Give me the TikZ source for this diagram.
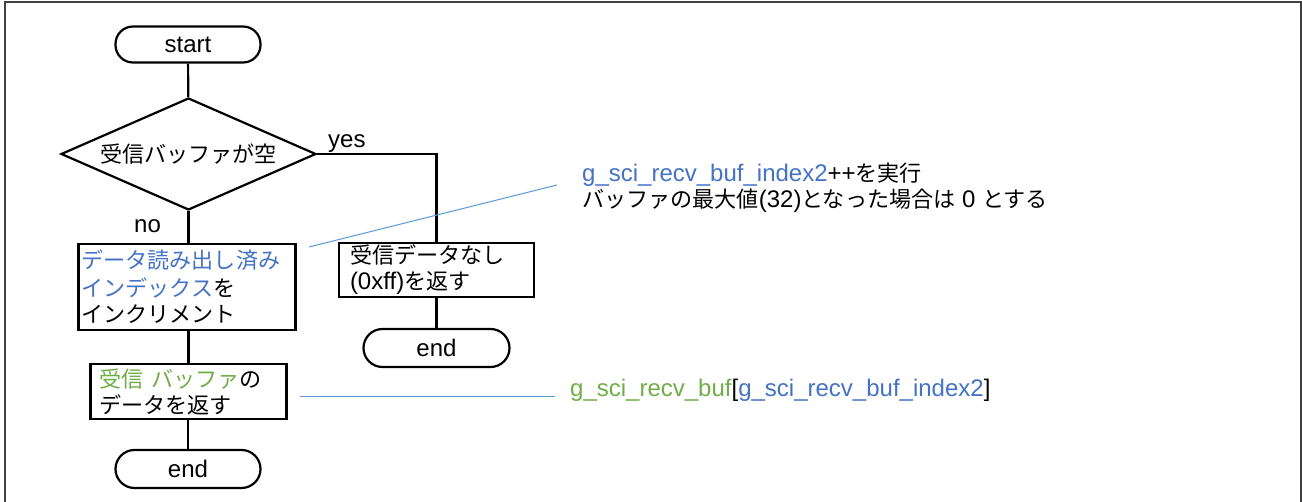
\documentclass[tikz,border=0pt]{standalone}
\usepackage{fontspec}
\setmainfont{Liberation Sans}
\newfontfamily\jpf[Scale=0.92]{Noto Sans CJK JP}
\usetikzlibrary{shapes.geometric}
\definecolor{codeblue}{HTML}{4472C4}
\definecolor{codegreen}{HTML}{70AD47}
\definecolor{leader}{HTML}{5B9BD5}
\tikzset{
  flow/.style={line width=2.2pt, black},
  terminal/.style={draw, flow, rounded corners=17.5pt, minimum width=145pt, minimum height=36pt, inner sep=0pt},
  decision/.style={draw, flow, diamond, aspect=2.28, minimum width=255pt, minimum height=112pt, inner sep=0pt},
  procbox/.style={draw, flow, rectangle, align=left, inner ysep=0pt},
  note/.style={anchor=west, inner sep=0pt, align=left},
  leaderline/.style={leader, line width=1pt},
  framestyle/.style={black!75, line width=1.6pt},
}
\begin{document}
\begin{tikzpicture}[x=1pt, y=-1pt, font=\fontsize{24}{26}\selectfont]
\useasboundingbox (0,0) rectangle (1302,502);
% outer frame (open at the bottom)
\draw[framestyle] (5,502) -- (5,2) -- (1301,2) -- (1301,502);

% main flow
\node[terminal] (start) at (188,44.5) {start};
\node[decision] (empty) at (188.5,154) {\jpf 受信バッファが空};
\node[procbox, text width=211pt, inner xsep=3pt, minimum height=86pt] (incr) at (187,287)
  {{\jpf\color{codeblue}データ読み出し済み}\\[2pt]{\jpf\color{codeblue}インデックス}{\jpf を}\\{\jpf インクリメント}};
\node[procbox, text width=178pt, inner xsep=9pt, minimum height=55pt] (ret) at (188.5,391.5)
  {{\jpf\color{codegreen}受信\hspace{8pt}バッファ}{\jpf の}\\{\jpf データを返す}};
\node[terminal, minimum height=38pt, rounded corners=19pt] (end1) at (188,469) {end};

% "yes" branch
\node[procbox, text width=173pt, inner xsep=11pt, minimum height=54pt] (none) at (436.5,270)
  {{\jpf 受信データなし}\\(0xff){\jpf を返す}};
\node[terminal, minimum width=146pt, minimum height=38pt, rounded corners=19pt] (end2) at (436.5,348) {end};

\draw[flow] (start) -- (empty);
\draw[flow] (empty.south) -- (empty.south |- incr.north);
\draw[flow] (empty.east) -| (none.north);
\draw[flow] (incr.south -| ret.north) -- (ret.north);
\draw[flow] (ret.south -| end1.north) -- (end1.north);
\draw[flow] (none) -- (end2);

\node[anchor=base west, inner sep=0pt] (yes) at (328,148) {yes};
\node[anchor=base west, inner sep=0pt] (no) at (134,233) {no};

% annotations
\node[note] (incnote) at (582,188)
  {{\color{codeblue}g\_sci\_recv\_buf\_index2}++{\jpf を実行}\\
   {\jpf バッファの最大値}(32){\jpf となった場合は} 0 {\jpf とする}};
\node[note] (retnote) at (570,390)
  {{\color{codegreen}g\_sci\_recv\_buf}[{\color{codeblue}g\_sci\_recv\_buf\_index2}]};

\coordinate (incfrom) at (309,247);
\coordinate (incto) at (557,185);
\coordinate (retfrom) at (300,397);
\coordinate (retto) at (555,397);
\draw[leaderline] (incfrom) -- (incto);
\draw[leaderline] (retfrom) -- (retto);
\end{tikzpicture}
\end{document}
